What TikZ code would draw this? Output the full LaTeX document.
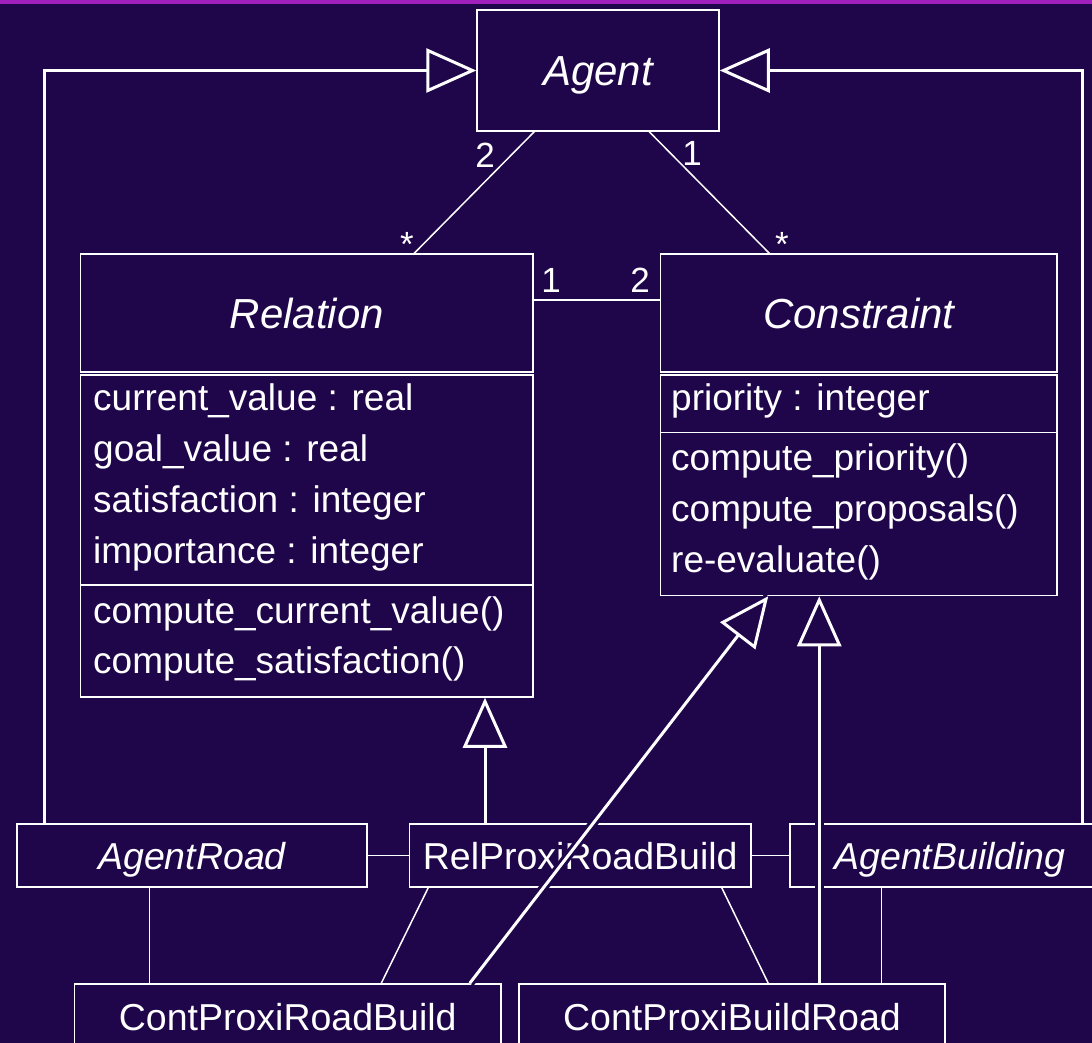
\documentclass[tikz,border=0pt]{standalone}
\usepackage{fontspec}
\setmainfont{Liberation Sans}
\usetikzlibrary{arrows.meta, calc}
\definecolor{bgpurple}{RGB}{31,5,74}
\definecolor{topline}{RGB}{160,32,190}
\newcommand{\clsfont}{\fontsize{42}{48}\selectfont}
\newcommand{\mbrfont}{\fontsize{37}{44}\selectfont}
\newcommand{\botfont}{\fontsize{37.5}{44}\selectfont}
\newcommand{\multfont}{\fontsize{35}{42}\selectfont}

\begin{document}
\begin{tikzpicture}[x=1pt, y=-1pt,
  box/.style={draw=white, line width=1.5pt, fill=bgpurple, inner sep=0pt,
              text=white, text depth=0pt},
  clsbox/.style={box, font={\clsfont\itshape}, text height=30pt},
  botbox/.style={box, font=\botfont, text height=27pt},
  member/.style={anchor=base west, inner sep=0pt, text=white, font=\mbrfont},
  mult/.style={inner sep=0pt, text=white, font=\multfont},
  assoc/.style={white, line width=1.5pt},
  gen/.style={white, line width=3pt,
              -{Triangle[length=50pt, width=44pt, fill=bgpurple]},
              preaction={draw=bgpurple, line width=9pt, -}}
]
\useasboundingbox (0,0) rectangle (1092,1043);
\clip (0,0) rectangle (1092,1043);
\fill[bgpurple] (0,0) rectangle (1092,1043);
\fill[topline] (0,0) rectangle (1092,4);

% classes
\node[clsbox, minimum width=242pt, minimum height=121pt] (agent) at (598,70.5) {Agent};

\node[clsbox, minimum width=452.5pt, minimum height=118pt] (relname) at (306.75,313) {Relation};
\node[box, minimum width=452.5pt, minimum height=210pt] (relattr) at (306.75,480) {};
\node[box, minimum width=452.5pt, minimum height=112pt] (relops) at (306.75,641) {};
\foreach \txt [count=\i] in {current\_value : real, goal\_value : real, satisfaction : integer, importance : integer}
  \node[member] (relattr\i) at (93,{359+51*\i}) {\txt};
\foreach \txt [count=\i] in {compute\_current\_value(), compute\_satisfaction()}
  \node[member] (relop\i) at (93,{573+50*\i}) {\txt};

\node[clsbox, minimum width=396.5pt, minimum height=118pt] (conname) at (858.75,313) {Constraint};
\node[box, minimum width=396.5pt, minimum height=57.5pt] (conattr) at (858.75,403.75) {};
\node[box, minimum width=396.5pt, minimum height=163pt] (conops) at (858.75,514) {};
\node[member] (conattr1) at (671,410) {priority : integer};
\foreach \txt [count=\i] in {compute\_priority(), compute\_proposals(), re-evaluate()}
  \node[member] (conop\i) at (671,{419+51*\i}) {\txt};

\node[botbox, minimum width=350pt, minimum height=63pt, font={\botfont\itshape}] (agentroad) at (192,855.5) {AgentRoad};
\node[botbox, minimum width=341.5pt, minimum height=63pt] (relproxi) at (580.25,855.5) {RelProxiRoadBuild};
\node[botbox, minimum width=320pt, minimum height=63pt, font={\botfont\itshape}] (agentbuild) at (950,855.5) {AgentBuilding};
\node[botbox, minimum width=426.5pt, minimum height=66pt] (contrb) at (287.75,1017) {ContProxiRoadBuild};
\node[botbox, minimum width=426pt, minimum height=66pt] (contbr) at (732,1017) {ContProxiBuildRoad};

% associations
\draw[assoc] ([xshift=58pt]agent.south west) -- ([xshift=334.5pt]relname.north west);
\draw[assoc] ([xshift=173pt]agent.south west) -- ([xshift=109.5pt]conname.north west);
\draw[assoc] ([yshift=13pt]relname.east) -- ([yshift=13pt]conname.west);
\node[mult] (mulagrel) at (485,155) {2};
\node[mult] (mulrelag) at (407,244) {*};
\node[mult] (mulagcon) at (692,153) {1};
\node[mult] (mulconag) at (782,244) {*};
\node[mult] (mulrelcon) at (551,280) {1};
\node[mult] (mulconrel) at (640,280) {2};

\draw[assoc] (agentroad) -- (relproxi);
\draw[assoc] (relproxi) -- (agentbuild);
\coordinate (arfoot) at ([xshift=133pt]agentroad.south west);
\draw[assoc] (arfoot) -- (arfoot |- contrb.north);
\draw[assoc] ([xshift=19.5pt]relproxi.south west) -- ([xshift=307.5pt]contrb.north west);
\draw[assoc] ([xshift=-30pt]relproxi.south east) -- ([xshift=250pt]contbr.north west);
\coordinate (abfoot) at ([xshift=92pt]agentbuild.south west);
\draw[assoc] (abfoot) -- (abfoot |- contbr.north);

% generalizations
\coordinate (rpfoot) at ([xshift=-95.25pt]relproxi.north);
\draw[gen] (rpfoot) -- (rpfoot |- relops.south);
\draw[gen] ([xshift=-32pt]contrb.north east) -- ([xshift=108.5pt]conops.south west);
\coordinate (cbfoot) at ([xshift=301pt]contbr.north west);
\draw[gen] (cbfoot) -- (cbfoot |- conops.south);
\draw[gen] ([xshift=28pt]agentroad.north west) |- (agent.west);
\draw[gen] ([xshift=293pt]agentbuild.north west) |- (agent.east);
\end{tikzpicture}
\end{document}
